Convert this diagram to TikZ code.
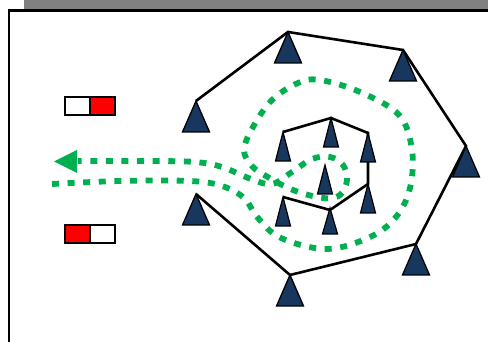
\documentclass[tikz,border=0pt]{standalone}
\usetikzlibrary{calc}
\definecolor{navy}{HTML}{17375E}
\definecolor{grn}{HTML}{00B050}
\definecolor{barg}{HTML}{808080}
\begin{document}
\begin{tikzpicture}[x=1pt,y=-1pt,line join=miter,
  wire/.style={line width=2.6pt,black},
  route/.style={line width=5.8pt,grn,dash pattern=on 7pt off 8.6pt},
  bigtri/.style={fill=navy,draw=black,line width=1.3pt},
  smalltri/.style={fill=navy,draw=black,line width=1.2pt},
  swbox/.style={draw=black,line width=1.2pt,minimum width=25pt,minimum height=18pt,inner sep=0pt,outer sep=0pt}]
\useasboundingbox (0,0) rectangle (488,342);
\fill[white] (0,0) rectangle (488,342);
% top bar and frame
\fill[barg] (24,0) rectangle (488,9.5);
\draw[line width=2.6pt] (8.8,345) -- (8.8,10.8) -- (490,10.8);
% switch boxes
\node[swbox,fill=white] (s1a) at (77.5,106) {};
\node[swbox,fill=red] (s1b) at (102.5,106) {};
\node[swbox,fill=red] (s2a) at (77.5,234) {};
\node[swbox,fill=white] (s2b) at (102.5,234) {};
% outer vertices
\coordinate (A1) at (196,101);
\coordinate (A2) at (288,32);
\coordinate (A3) at (403,50);
\coordinate (A4) at (466,146);
\coordinate (A5) at (416,244);
\coordinate (A6) at (290,275);
\coordinate (A7) at (196,194);
% inner vertices
\coordinate (B1) at (283,132);
\coordinate (B2) at (331,118);
\coordinate (B3) at (368,133);
\coordinate (B4) at (368,184);
\coordinate (B5) at (330,210);
\coordinate (B6) at (283,197);
\coordinate (C0) at (325,165);
% green route
\draw[route] plot[smooth,tension=0.6] coordinates {
 (52,184) (120,181) (190,181) (222,186) (244,198) (258,218) (281,238)
 (327,249) (370,237) (396,217) (410,188) (412,150) (399,115) (360,92)
 (320,80) (298,83) (272,100) (253,127) (244,150) (252,166) (266,176)
 (293,190) (323,198) (340,195) (347,180) (343,165) (330,157) (312,159)
 (292,172) (272,184) (251,179) (222,167) (195,162) (150,161) (78,161)};
\fill[grn] (54,161.5) -- (77,150) -- (77,173) -- cycle;
% wires
\draw[wire] (A1) -- (A2) -- (A3) -- (A4) -- (A5) -- (A6) -- (A7);
\draw[wire] (B1) -- (B2) -- (B3) -- (B4) -- (B5) -- (B6);
% triangles
\foreach \p in {A1,A2,A3,A4,A5,A6,A7}
  \draw[bigtri] (\p) -- ++(13.5,31) -- ++(-27,0) -- cycle;
\foreach \p in {B1,B2,B3,B4,B6,C0}
  \draw[smalltri] (\p) -- ++(7.5,29) -- ++(-15,0) -- cycle;
\draw[smalltri] ($(B5)+(0,-2)$) -- ++(7.5,26) -- ++(-15,0) -- cycle;
\end{tikzpicture}
\end{document}
